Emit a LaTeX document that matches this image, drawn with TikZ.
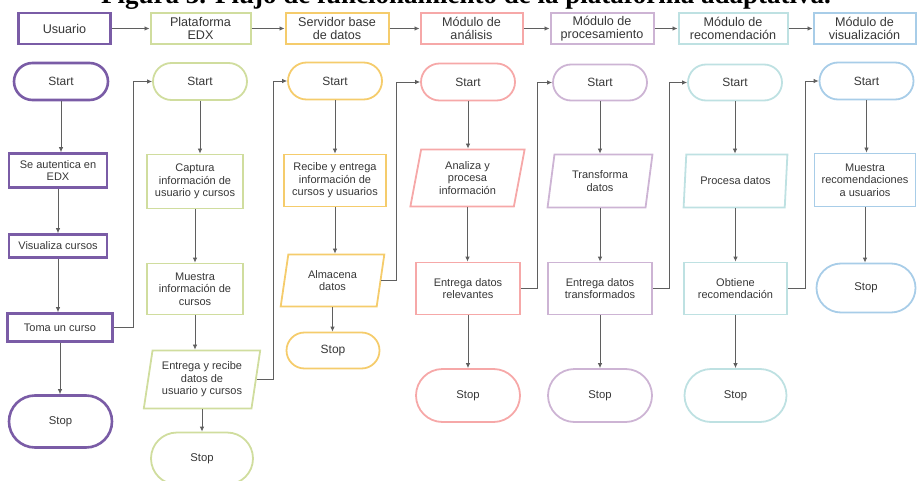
\documentclass[tikz,border=0pt]{standalone}
\usepackage{fontspec}
\setmainfont{Liberation Sans}
\newfontfamily\titlefont{Liberation Serif}
\usetikzlibrary{shapes.geometric,shapes.misc,arrows.meta}
\definecolor{cpurple}{RGB}{122,92,166}
\definecolor{cgreen}{RGB}{208,221,158}
\definecolor{cyellow}{RGB}{245,204,108}
\definecolor{cpink}{RGB}{246,168,168}
\definecolor{cmauve}{RGB}{205,180,212}
\definecolor{ccyan}{RGB}{190,225,226}
\definecolor{cblue}{RGB}{168,205,232}
\definecolor{txt}{RGB}{55,55,55}
\definecolor{agray}{RGB}{95,95,95}
\begin{document}
\begin{tikzpicture}[x=1pt,y=-1pt,
  every node/.style={font=\fontsize{11}{12.5}\selectfont, text=txt, align=center, inner sep=1pt},
  term/.style={rounded rectangle, draw=#1, line width=1.8pt, minimum width=96pt, minimum height=37pt, font=\fontsize{12}{14}\selectfont},
  stopbox/.style={rounded rectangle, draw=#1, line width=1.8pt, minimum width=106pt, minimum height=53pt, font=\fontsize{11.3}{13}\selectfont},
  proc/.style={rectangle, draw=#1, line width=1.8pt},
  io/.style={trapezium, trapezium left angle=79, trapezium right angle=101, trapezium stretches=true, draw=#1, line width=1.8pt},
  hdr/.style={rectangle, draw=#1, line width=2pt, minimum height=31pt, inner sep=0pt, font=\fontsize{12.6}{13.6}\selectfont},
  arr/.style={draw=agray, line width=0.8pt, -{Latex[length=5pt,width=4.5pt]}}
]
\useasboundingbox (0,0) rectangle (917,481);
\begin{scope}
\clip (0,0) rectangle (917,481);
\node[anchor=base, inner sep=0, text=black, font={\titlefont\bfseries\fontsize{27}{30}\selectfont}] (title) at (466,4) {Figura 3. Flujo de funcionamiento de la plataforma adaptativa.};
\end{scope}

% header
\node[hdr=cpurple, line width=2.8pt, minimum width=92pt] (h1) at (64.5,28.5) {Usuario};
\node[hdr=cgreen, minimum width=100pt] (h2) at (200.5,28.5) {Plataforma\\EDX};
\node[hdr=cyellow, minimum width=103pt] (h3) at (337,28.5) {Servidor base\\de datos};
\node[hdr=cpink, minimum width=102pt] (h4) at (471.5,28.5) {Módulo de\\análisis};
\node[hdr=cmauve, minimum width=103pt] (h5) at (602,28.5) {Módulo de\\procesamiento};
\node[hdr=ccyan, minimum width=109pt] (h6) at (733,28.5) {Módulo de\\recomendación};
\node[hdr=cblue, minimum width=102pt] (h7) at (864.5,28.5) {Módulo de\\visualización};
\foreach \p/\q in {h1/h2,h2/h3,h3/h4,h4/h5,h5/h6,h6/h7}
  \draw[arr] (\p.east) -- (\q.west);

% column 1
\node[term=cpurple, line width=2.6pt] (a0) at (61,81.5) {Start};
\node[proc=cpurple, line width=2.6pt, minimum width=98pt, minimum height=34pt] (a1) at (58,170.5) {Se autentica en\\EDX};
\node[proc=cpurple, line width=2.6pt, minimum width=98pt, minimum height=23pt] (a2) at (58,246) {Visualiza cursos};
\node[proc=cpurple, line width=2.6pt, minimum width=105pt, minimum height=28pt] (a3) at (60,327.5) {Toma un curso};
\node[stopbox=cpurple, line width=2.6pt, minimum width=105pt, minimum height=52pt] (a4) at (60.5,421.5) {Stop};

% column 2
\node[term=cgreen] (b0) at (200,81.5) {Start};
\node[proc=cgreen, minimum width=96pt, minimum height=54pt] (b1) at (195,181.5) {Captura\\información de\\usuario y cursos};
\node[proc=cgreen, minimum width=96pt, minimum height=51pt] (b2) at (195,289) {Muestra\\información de\\cursos};
\node[io=cgreen, minimum width=117pt, minimum height=58pt] (b3) at (202,379.5) {Entrega y recibe\\datos de\\usuario y cursos};
\node[stopbox=cgreen, minimum width=104pt, minimum height=52pt] (b4) at (202,458.5) {Stop};

% column 3
\node[term=cyellow] (c0) at (335,81) {Start};
\node[proc=cyellow, minimum width=102pt, minimum height=52pt] (c1) at (335,180.5) {Recibe y entrega\\información de\\cursos y usuarios};
\node[io=cyellow, minimum width=104pt, minimum height=52pt] (c2) at (332.5,280.5) {Almacena\\datos};
\node[term=cyellow, minimum width=95pt, minimum height=36pt] (c3) at (333,350.5) {Stop};

% column 4
\node[term=cpink] (d0) at (468,82) {Start};
\node[io=cpink, minimum width=115pt, minimum height=57pt] (d1) at (467.5,178) {Analiza y\\procesa\\información};
\node[proc=cpink, minimum width=104pt, minimum height=52pt] (d2) at (468,288.5) {Entrega datos\\relevantes};
\node[stopbox=cpink] (d3) at (468,395.5) {Stop};

% column 5
\node[term=cmauve, minimum height=36pt] (e0) at (600,82.5) {Start};
\node[io=cmauve, minimum width=105pt, minimum height=53pt] (e1) at (600,181) {Transforma\\datos};
\node[proc=cmauve, minimum width=104pt, minimum height=52pt] (e2) at (600,288.5) {Entrega datos\\transformados};
\node[stopbox=cmauve] (e3) at (600,395.5) {Stop};

% column 6
\node[term=ccyan, minimum height=36pt] (f0) at (735,82.5) {Start};
\node[io=ccyan, minimum width=104pt, minimum height=53pt] (f1) at (735.5,181) {Procesa datos};
\node[proc=ccyan, minimum width=103pt, minimum height=52pt] (f2) at (735.5,288.5) {Obtiene\\recomendación};
\node[stopbox=ccyan, minimum width=104pt] (f3) at (735.5,395.5) {Stop};

% column 7
\node[term=cblue] (g0) at (866.5,81) {Start};
\node[proc=cblue, minimum width=101pt, minimum height=53pt] (g1) at (865,180) {Muestra\\recomendaciones\\a usuarios};
\node[stopbox=cblue, minimum width=101pt, minimum height=49pt] (g2) at (866,288) {Stop};

% vertical arrows
\foreach \p/\q in {a0/a1,a1/a2,a2/a3,a3/a4,b0/b1,b1/b2,b2/b3,b3/b4,c0/c1,c1/c2,c2/c3,d0/d1,d1/d2,d2/d3,e0/e1,e1/e2,e2/e3,f0/f1,f1/f2,f2/f3,g0/g1,g1/g2}
  \draw[arr] (\p.south) -- (\p.south |- \q.north);

% side connectors
\coordinate (k1) at (133,0);
\coordinate (k2) at (273,0);
\coordinate (k3) at (396,0);
\coordinate (k4) at (537,0);
\coordinate (k5) at (669,0);
\coordinate (k6) at (805,0);
\draw[arr] (a3.east) -- (a3.east -| k1) |- (b0.west);
\draw[arr] (b3.east) -- (b3.east -| k2) |- (c0.west);
\draw[arr] (c2.east) -- (c2.east -| k3) |- (d0.west);
\draw[arr] (d2.east) -- (d2.east -| k4) |- (e0.west);
\draw[arr] (e2.east) -- (e2.east -| k5) |- (f0.west);
\draw[arr] (f2.east) -- (f2.east -| k6) |- (g0.west);
\end{tikzpicture}
\end{document}
